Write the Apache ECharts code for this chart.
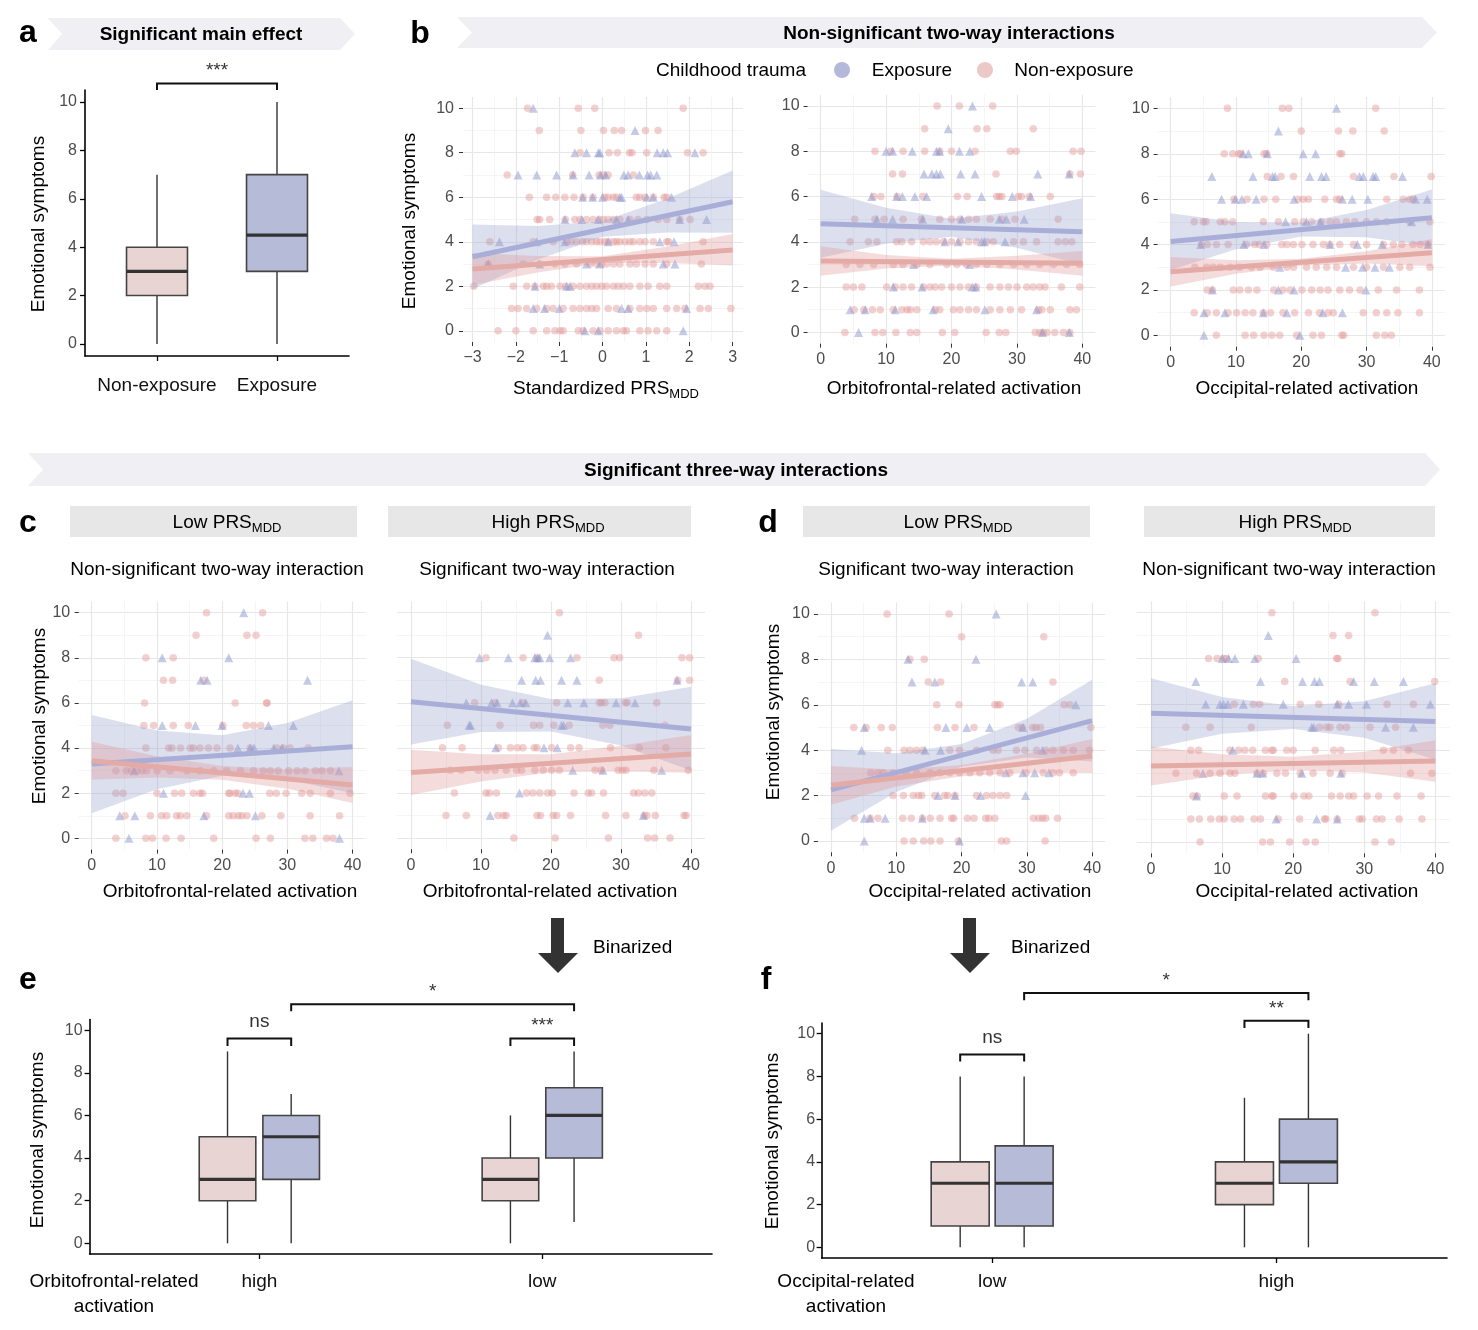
<!DOCTYPE html>
<html><head><meta charset="utf-8">
<script src="https://cdn.jsdelivr.net/npm/echarts@6/dist/echarts.min.js"></script>
<style>html,body{margin:0;padding:0;background:#fff}#chart{width:1478px;height:1330px}</style>
</head><body><div id="chart"></div>
<script>
// ---------------- DATA ----------------
const symptomTicks = [0, 2, 4, 6, 8, 10];
const prsTicks = [-3, -2, -1, 0, 1, 2, 3];
const activationTicks = [0, 10, 20, 30, 40];
const prsRange = [-3, 3];
const activationRange = [0, 40];
const prsBandX = [-3, -1.5, 0, 1.5, 3];
const activationBandX = [0, 10, 20, 30, 40];

// Panel a boxplots: [min, Q1, median, Q3, max]
const aCategories = ['Non-exposure', 'Exposure'];
const aBoxes = [[0, 2, 3, 4, 7], [0, 3, 4.5, 7, 10]];
// Panel e
const eCategories = ['high', 'low'];
const eNonExpBoxes = [[0, 2, 3, 5, 9], [0, 2, 3, 4, 6]];
const eExpBoxes = [[0, 3, 5, 6, 7], [1, 4, 6, 7.3, 9]];
// Panel f
const fCategories = ['low', 'high'];
const fNonExpBoxes = [[0, 1, 3, 4, 8], [0, 2, 3, 4, 7]];
const fExpBoxes = [[0, 1, 3, 4.75, 8], [0, 3, 4, 6, 10]];

// significance brackets: [x1, x2, yBar, yLegEnd, label]
const aBrackets = [[1, 2, 10.77, 10.5, '***']];
const eBrackets = [[0.8875, 1.1125, 9.61, 9.26, 'ns'], [1.8875, 2.1125, 9.61, 9.26, '***'], [1.1125, 2.1125, 11.22, 10.89, '*']];
const fBrackets = [[0.8875, 1.1125, 9.03, 8.7, 'ns'], [1.8875, 2.1125, 10.6, 10.27, '**'], [1.1125, 2.1125, 11.9, 11.57, '*']];

// Scatter points: index = emotional symptom score (0..10), values = x positions
const b1NonExp = [
 [-2.41,-2,-1.6,-1.29,-1.1,-0.98,-0.91,-0.56,-0.45,-0.22,-0.06,0.13,0.32,0.48,0.55,0.86,1.05,1.25,1.48],
 [-2.1,-1.95,-1.75,-1.52,-1.29,-1.14,-0.91,-0.68,-0.52,-0.37,-0.25,-0.14,0.13,0.32,0.63,0.86,1.02,1.17,1.48,1.71,1.9,2.25,2.44,2.96],
 [-2.97,-2.06,-1.75,-1.56,-1.37,-1.29,-1.18,-0.98,-0.85,-0.68,-0.52,-0.37,-0.25,-0.14,-0.02,0.09,0.25,0.36,0.48,0.63,0.86,1.05,1.32,1.48,2.21,2.36,2.48],
 [-2.64,-1.83,-1.45,-1.1,-0.87,-0.6,-0.29,-0.14,-0.02,0.09,0.25,0.4,0.63,0.78,0.98,1.17,1.48,2.28],
 [-2.6,-1.6,-1.14,-0.83,-0.72,-0.6,-0.46,-0.37,-0.25,-0.14,-0.06,0.05,0.13,0.25,0.32,0.4,0.52,0.63,0.71,0.86,0.98,1.17,1.48,1.52,2.32],
 [-1.51,-1.45,-1.22,-0.86,-0.64,-0.52,-0.37,-0.22,-0.08,0.02,0.13,0.25,0.4,0.63,0.82,1.02,1.28,1.48,1.78,2.02],
 [-1.69,-1.29,-1.08,-0.87,-0.66,-0.45,-0.22,0.05,0.13,0.25,0.32,0.78,0.86,0.98,1.17,1.42,1.48],
 [-2.2,-0.69,-0.08,0.03,0.13,0.71],
 [-0.52,0.15,0.34,0.62,0.68,1.02,1.96,2.32],
 [-1.46,-0.5,0.02,0.27,0.44,0.99,1.28],
 [-1.73,-0.56,-0.18,1.86]
];
const b1Exp = [
 [-0.41,-0.1,1.86],
 [-1.6,-1.34,-1.0,0.44,0.59,1.94],
 [-1.56,-0.83,-0.75],
 [-2.64,-1.45,-0.37,-0.06,1.4,1.67],
 [-2.38,-1.52,-0.87,0.13,1.32,1.65],
 [-0.87,-0.48,-0.1,0.32,0.59,1.78,2.4],
 [-0.46,-0.23,0,0.4,0.44,1.02,1.17,1.59],
 [-1.95,-1.52,-1.06,-0.68,-0.31,-0.05,0.07,0.49,0.59,0.85,1.04,1.11,1.25],
 [-0.64,-0.37,-0.1,-0.06,1.26,1.4,1.5,2.13],
 [0.75],
 [-1.6]
];
const b1NonExpLine = [2.78, 3.63];
const b1ExpLine = [3.33, 5.8];
const b1NonExpLo = [2.06, 2.62, 3.05, 3.05, 2.93];
const b1NonExpHi = [3.5, 3.36, 3.35, 3.79, 4.35];
const b1ExpLo = [1.88, 3.19, 4.22, 4.42, 4.4];
const b1ExpHi = [4.78, 4.71, 4.92, 5.94, 7.2];

const b2NonExp = [
 [3.7,8.3,9.5,11.5,13.7,14.7,18.6,20.5,25.3,27.3,28.3,32.8,33.5,34,34.6,35.8,37.1,38.1],
 [5.1,6.6,7.9,9.1,11.1,12.4,13.2,13.7,14.7,17.5,18.2,20.3,21.3,22.6,23.8,25.9,27.4,29,30.7,33.3,33.8,35.1,38.1,39.1],
 [3.9,5,6.3,10.1,11.4,12.6,13.9,15.7,16.7,17.5,18.5,20,21.3,22.6,23.8,25.9,27.4,28.7,30,31.5,32.5,33.5,34.3,36.8,39.6],
 [3.9,6,8.1,11.1,12.6,14.7,16.7,19.3,20.8,22.3,23.8,25.4,27.4,29.5,31.5,33.5,35.6,37.6,39.6],
 [4.5,7.3,8.6,11.6,12.4,13.9,15.7,16.7,17.7,18.8,20,21.3,22.6,23.8,25.4,26.4,29.5,31,33,36.3,37.4,38.4],
 [5.2,8.3,9.7,12.6,15.4,18.2,20,21.3,22.6,23.8,25.9,27.7,29.7,36.3],
 [8.1,9.2,11.7,15.6,20.9,22.4,26.9,27.3,27.7,30.2,30.7,31.9,35.1],
 [11,12.5,26.8,38.1,39.7],
 [8.3,10.7,12.6,15.9,18.2,20,23.6,29,29.9,38.6,39.8],
 [15.9,23.9,25.4,32.5],
 [17.8,21.2,26.3]
];
const b2Exp = [
 [5.8,33.9,38],
 [4.5,6.8,11.4,17.2,25.1,33],
 [11.1,15.5,23.2,23.7],
 [14.2,22.8],
 [19,21,24.6,25,28.2],
 [8.6,11,15.6,21.6,27.3,28.4,31.1],
 [7.8,11.6,12.5,14.4,16.2,24.6,29.3,32.1],
 [15.8,17,17.7,18.3,21.4,23.6,33.2,38],
 [10,11,14,17.7,18.2,21.2,22.8],
 [19.5],
 [23.2]
];
const b2NonExpLine = [3.15, 3.05];
const b2ExpLine = [4.8, 4.45];
const b2NonExpLo = [2.5, 2.82, 2.95, 2.78, 2.5];
const b2NonExpHi = [3.8, 3.42, 3.25, 3.38, 3.6];
const b2ExpLo = [3.3, 3.91, 4.22, 3.74, 2.98];
const b2ExpHi = [6.3, 5.51, 5.02, 5.34, 5.92];

const b3NonExp = [
 [7,11.4,12.7,14.3,15.5,16.7,19.3,21.8,23.1,26.2,26.5,31.5,32.8,33.8],
 [3.6,5.6,7,8.8,10.1,11.4,12.6,14.2,15.3,17.2,19,21.1,22.8,24.1,24.9,29.5,31.5,33.1,34.8,38.1],
 [5.6,6.4,9.6,10.6,11.9,13.2,15.8,17.2,18.3,20.1,21.6,22.9,24.1,25.9,27.4,29,31.8,34.6,38.1],
 [3.7,5.5,6.5,7.6,9.1,10.6,12.4,13.7,15.7,17.8,18.8,20.8,22.3,23.9,25.4,28,30,32.6,35.1,36.6,39.7],
 [4.7,5.6,7,8.8,11.6,12.9,13.6,14.7,17,17.8,18.8,20.1,21.8,23.4,24.4,25.9,28,30,32.6,34.1,35.4,37.1,38.2,39.4],
 [3.6,5,5.4,7.6,8.3,9.5,14.2,16.5,19,20.3,21.6,23.1,24.4,25.4,26.9,28.2,30,31.5,33.1,36.6,39.7],
 [9.7,11.7,14.3,16.1,19.5,20.3,21.1,23.6,25.4,25.9,33.1,35.6,36.6,37.1],
 [14.8,16.9,18.8,28,34.2,39.9],
 [8.2,9.5,10.4,10.7,14.3,14.7,25.9,26.2],
 [20,25.7,27.9,32.7],
 [8.7,17.1,18.1,31.4]
];
const b3Exp = [
 [5.1,19.8],
 [5.1,8.3,14.2,17.8,23.3,26.3],
 [6.4,16.5,18.9,29.9],
 [16.7,26.8,29.4,31.3,33.5],
 [4.6,11.2,14.3,24.4,28.6,32.4,39.4],
 [17.6,20.8,22.9,36.9],
 [7.8,9.9,10.9,13.1,18.9,26.3,27.8,30.2,37.5,39.3],
 [6.3,12.6,15.6,16,21.3,23.1,23.8,28.9,29.5,31,31.4,35.5],
 [11.1,11.9,14.8,20.3,22.2],
 [16.5],
 [25.4]
];
const b3NonExpLine = [2.8, 3.64];
const b3ExpLine = [4.13, 5.18];
const b3NonExpLo = [2.15, 2.71, 3.07, 3.16, 3.04];
const b3NonExpHi = [3.45, 3.31, 3.37, 3.7, 4.24];
const b3ExpLo = [2.88, 3.79, 4.36, 4.32, 3.93];
const b3ExpHi = [5.38, 4.99, 4.96, 5.52, 6.43];

const c1NonExp = [
 [3.7,8.3,9.3,11.4,13.7,18.7,25.2,27.4,32.7,33.9,36,37],
 [5.1,9,10.7,11.5,13,13.6,14.6,17.6,21,21.7,22.5,23,23.8,26.1,29,33.5,38],
 [3.7,4.8,10,12.7,13.8,15.6,16.6,17,21,21.2,22,22.4,27.3,28.3,29.8,32.2,33.5,36.6,39.6],
 [3.7,5.3,6.1,6.9,7.7,8.4,10,12,14.6,16.6,18.7,20.7,22.8,24.8,26.3,27.4,28.6,30.2,31.5,32.7,34.3,35.3,36.6],
 [8.3,11.8,12.3,13.6,15.1,15.6,16.6,17.9,19.2,21.2,24.3,28.4,29.4,30.4,33.2],
 [8,9.5,12.5,14.8,20.1,23.7,24.8,25.9],
 [8.1,22,26.8,26.9],
 [11,12.4,17.2],
 [8.3,12.5],
 [16,23.8,25.2],
 [17.6,26.2]
];
const c1Exp = [
 [5.7,38],
 [4.3,6.6,17.2,25.1],
 [11,23.2,24.2],
 [6.5,37.9],
 [22.4,24.3,24.9,27.9,29.2],
 [10.8,15.9,20,27.1,30.9],
 [],
 [16.7,17.7,33.1],
 [10.8,21],
 [],
 [23.3]
];
const c1NonExpLine = [3.44, 2.36];
const c1ExpLine = [3.29, 4.06];
const c1NonExpLo = [2.6, 2.7, 2.6, 2.2, 1.56];
const c1NonExpHi = [4.28, 3.64, 3.2, 3.06, 3.16];
const c1ExpLo = [1.11, 2.18, 2.77, 2.61, 2.0];
const c1ExpHi = [5.47, 4.78, 4.57, 5.11, 6.12];

const c2NonExp = [
 [14.7,20.6,28.2,33.8,34.8,37],
 [5,7.9,12.4,13.2,13.6,18,18.5,20.3,20.8,22.8,27.8,30.7,33.3,33.7,34.9,39,39.3],
 [6.2,10.7,11.2,12.2,16.5,17.4,18.4,19.5,20.2,23.3,25.3,25.8,27.5,31.8,32.5,33.4,34.4],
 [5.6,7.2,9.6,10.8,12,13.6,15.1,15.8,17.7,18.9,20.1,21.2,26.3,27.2,29.6,30.2,30.7,34.7,39.6],
 [4.5,7.3,12.5,14.2,15.2,16,17.6,18,20.1,22.8,24,28.5,32.6,36.4],
 [5.2,12.7,17.5,18.4,20.4,22.6,27.4,28.4,36.3],
 [9.1,12,16,20.8,26.9,27.2,27.7,30.6,30.9,35.1],
 [26.9,38.1,39.8],
 [10.7,16,18,23.7,29,29.8,38.7,39.8],
 [32.5],
 [21.2]
];
const c2Exp = [
 [],
 [11.3,33.2],
 [15.5],
 [23.1,27.4,35.8],
 [12.1,19,20.9],
 [8.3,8.5,21.5,21.8],
 [7.9,11.5,12.3,14.5,15.6,16.4,22.4,24.7,29.3,32],
 [15.8,17.8,18.5,21.5,23.7,38],
 [9.8,13.9,17.7,18.1,18.4,19.8,22.8],
 [19.5],
 []
];
const c2NonExpLine = [2.91, 3.73];
const c2ExpLine = [6.05, 4.84];
const c2NonExpLo = [1.91, 2.5, 2.92, 2.95, 2.89];
const c2NonExpHi = [3.91, 3.72, 3.72, 4.09, 4.57];
const c2ExpLo = [4.15, 4.7, 4.73, 4.1, 2.99];
const c2ExpHi = [7.95, 6.8, 6.17, 6.2, 6.71];

const d1NonExp = [
 [11.2,12.6,14.2,15.3,16.7,19.5,26.1,26.9,32.8],
 [3.6,6,7.2,11,12.3,14,15.2,16.7,18.5,18.8,20.9,21.9,23.7,24.2,25.1,31,31.8,32.4,32.9,34.7],
 [9.5,11.1,12.6,13.4,13.9,15.9,17.4,17.9,19,22.3,23.8,24.8,25.9,26.9],
 [6.1,7.2,8,9.5,11.5,13.1,15.2,16.7,18.2,19.7,21.3,22.8,24.3,25.9,27.4,29.9,32.5,34,35,37.1],
 [8.7,11.2,12.1,13.1,14.1,18.2,19.7,22.3,24.8,25.6,28.4,29.7,31.5,32.9,34,35.6,37.1,39.6],
 [3.5,5.4,7.7,9.4,16.3,19,21.9,28.7,29.3,30.9,31.4,32.1,39.8],
 [16.2,19.6,25.1,25.5,25.9,35.7,36.6],
 [14.9,16.8,34],
 [12.1,14.3],
 [20,32.6],
 [8.6,18.1]
];
const d1Exp = [
 [5.1,19.7],
 [5.1,6,8.3,14],
 [16.4,19,22.9,29.8],
 [26.8,29.4,31.2,33.4],
 [4.7,14.4,16.8,32.4],
 [5.1,17.6,20.8,24.3,29.4],
 [37.5],
 [12.4,15.9,29.2,30.9],
 [11.8,22.2],
 [],
 [25.3]
];
const d1NonExpLine = [2.45, 3.74];
const d1ExpLine = [2.25, 5.3];
const d1NonExpLo = [1.6, 2.4, 2.85, 3.0, 2.99];
const d1NonExpHi = [3.3, 3.14, 3.35, 3.84, 4.49];
const d1ExpLo = [0.45, 2.16, 3.27, 3.68, 3.5];
const d1ExpHi = [4.05, 3.86, 4.27, 5.38, 7.1];

const d2NonExp = [
 [6.9,15.7,16.8,19.5,21.8,23.1,31.5,33.8],
 [5.6,6.8,8.4,9.6,10.3,11.7,12.6,14.5,15.4,17.9,20.9,24.4,24.6,26.2,29.3,29.7,31.7,32.5,34.9,38.1],
 [5.9,6.5,10.3,12.1,16.1,17,17.2,20.1,21.5,22.2,25.4,26.6,27.8,28.5,30.4,32,34.6,38],
 [3.5,6.4,8.3,9.7,11.1,11.8,14.9,15.8,17.7,18.9,21,22.8,25.2,26.9,36.5,39.5],
 [5.6,6.7,11.1,12.3,13.2,14.3,16.1,17,17.2,19.1,20,23.1,25.7,26.7,32.7,34.1,36.2],
 [4.9,8.3,14.1,23.7,24.7,25.2,26.6,27.5,30.8,34.4],
 [11.7,14.4,15.3,21,23.6,26.4,33.2,36.9],
 [18.8,28,39.9],
 [8.1,9.3,10.2,10.6,15.1,26.1,26.3],
 [25.6,27.8],
 [17,31.5]
];
const d2Exp = [
 [],
 [17.6,23.3,26.2],
 [6.4],
 [7.3,14.9,15.7,21.2,26.7],
 [11.5],
 [22.6,22.9,33,36.9],
 [7.7,9.7,10.2,10.8,13,18.6,26.2,27.8,30.3,39.3],
 [6.3,15.4,21.3,23,23.7,28.5,31.4,35.5],
 [10,10.9,11.8,14.6,20.4],
 [16.5],
 []
];
const d2NonExpLine = [3.31, 3.53];
const d2ExpLine = [5.61, 5.25];
const d2NonExpLo = [2.46, 2.92, 3.12, 3.03, 2.63];
const d2NonExpHi = [4.16, 3.82, 3.72, 3.93, 4.43];
const d2ExpLo = [4.08, 4.72, 4.93, 4.54, 3.58];
const d2ExpHi = [7.14, 6.32, 5.93, 6.14, 6.92];

// ---------------- STYLE / LAYOUT ----------------
const FONT = 'Liberation Sans, Arial, Helvetica, sans-serif';
const PINK_PT = 'rgba(226,150,148,0.56)';
const BLUE_PT = 'rgba(138,148,204,0.62)';
const PINK_LINE = '#e4aaa6';
const BLUE_LINE = '#a8aed7';
const PINK_BAND = 'rgba(226,150,150,0.33)';
const BLUE_BAND = 'rgba(150,158,202,0.33)';
const BOX_FILLS = ['#e9d4d4', '#b6bbd7'];

const scatterPanels = [
 {left:463, top:97, width:280, height:245, xMin:-3.22, xMax:3.24, xTicks:prsTicks, xMargin:8, yLabels:true, yMargin:9,
  lineX:prsRange, bandX:prsBandX, nonExp:b1NonExp, exp:b1Exp, nonLine:b1NonExpLine, expLine:b1ExpLine,
  nonLo:b1NonExpLo, nonHi:b1NonExpHi, expLo:b1ExpLo, expHi:b1ExpHi},
 {left:807.6, top:94.7, width:287.8, height:249, xMin:-2, xMax:42, xTicks:activationTicks, xMargin:8, yLabels:true, yMargin:8,
  lineX:activationRange, bandX:activationBandX, nonExp:b2NonExp, exp:b2Exp, nonLine:b2NonExpLine, expLine:b2ExpLine,
  nonLo:b2NonExpLo, nonHi:b2NonExpHi, expLo:b2ExpLo, expHi:b2ExpHi},
 {left:1157.6, top:97, width:287.3, height:249.7, xMin:-2, xMax:42, xTicks:activationTicks, xMargin:8, yLabels:true, yMargin:8,
  lineX:activationRange, bandX:activationBandX, nonExp:b3NonExp, exp:b3Exp, nonLine:b3NonExpLine, expLine:b3ExpLine,
  nonLo:b3NonExpLo, nonHi:b3NonExpHi, expLo:b3ExpLo, expHi:b3ExpHi},
 {left:78.7, top:601.4, width:286.9, height:248.2, xMin:-2, xMax:42, xTicks:activationTicks, xMargin:8, yLabels:true, yMargin:8.5,
  lineX:activationRange, bandX:activationBandX, nonExp:c1NonExp, exp:c1Exp, nonLine:c1NonExpLine, expLine:c1ExpLine,
  nonLo:c1NonExpLo, nonHi:c1NonExpHi, expLo:c1ExpLo, expHi:c1ExpHi},
 {left:397, top:601.4, width:308, height:247.8, xMin:-2, xMax:42, xTicks:activationTicks, xMargin:8, yLabels:false, yMargin:8,
  lineX:activationRange, bandX:activationBandX, nonExp:c2NonExp, exp:c2Exp, nonLine:c2NonExpLine, expLine:c2ExpLine,
  nonLo:c2NonExpLo, nonHi:c2NonExpHi, expLo:c2ExpLo, expHi:c2ExpHi},
 {left:817.9, top:602.6, width:287.3, height:249.7, xMin:-2, xMax:42, xTicks:activationTicks, xMargin:8, yLabels:true, yMargin:8,
  lineX:activationRange, bandX:activationBandX, nonExp:d1NonExp, exp:d1Exp, nonLine:d1NonExpLine, expLine:d1ExpLine,
  nonLo:d1NonExpLo, nonHi:d1NonExpHi, expLo:d1ExpLo, expHi:d1ExpHi},
 {left:1136.8, top:601.2, width:312.8, height:252.2, xMin:-2, xMax:42, xTicks:activationTicks, xMargin:8, yLabels:false, yMargin:8,
  lineX:activationRange, bandX:activationBandX, nonExp:d2NonExp, exp:d2Exp, nonLine:d2NonExpLine, expLine:d2ExpLine,
  nonLo:d2NonExpLo, nonHi:d2NonExpHi, expLo:d2ExpLo, expHi:d2ExpHi}
];

const boxPanels = [
 {left:85, top:90, width:264, height:266, cats:aCategories, halfW:0.254, xMargin:20, yMargin:8,
  items: aBoxes.map((b, i) => [i + 1, ...b, i]), brackets:aBrackets},
 {left:89.6, top:1019.5, width:622.4, height:234.5, cats:eCategories, halfW:0.1, xMargin:18, yMargin:7,
  items: [].concat(...eCategories.map((c, i) => [[i + 1 - 0.1125, ...eNonExpBoxes[i], 0], [i + 1 + 0.1125, ...eExpBoxes[i], 1]])), brackets:eBrackets},
 {left:821.6, top:1023, width:625.4, height:235, cats:fCategories, halfW:0.102, xMargin:14, yMargin:6.5,
  items: [].concat(...fCategories.map((c, i) => [[i + 1 - 0.1125, ...fNonExpBoxes[i], 0], [i + 1 + 0.1125, ...fExpBoxes[i], 1]])), brackets:fBrackets}
];

// ---------------- BUILD ----------------
const grids = [], xAxes = [], yAxes = [], series = [];
const fmtTick = v => v < 0 ? '\u2212' + Math.abs(v) : String(v);
function levelsToPoints(levels) { const pts = []; levels.forEach((xs, y) => xs.forEach(x => pts.push([x, y]))); return pts; }

function bandSeries(gi, xs, lo, hi, color) {
  return {type:'custom', xAxisIndex:gi, yAxisIndex:gi, silent:true, z:3, clip:true,
    data:[[xs[0], lo[0]]],
    renderItem: (params, api) => {
      const pts = [];
      xs.forEach((x, i) => pts.push(api.coord([x, hi[i]])));
      for (let i = xs.length - 1; i >= 0; i--) pts.push(api.coord([xs[i], lo[i]]));
      return {type:'polygon', shape:{points:pts}, style:{fill:color}};
    }};
}

scatterPanels.forEach(p => {
  const gi = grids.length;
  grids.push({left:p.left, top:p.top, width:p.width, height:p.height});
  const minorLine = {show:true, lineStyle:{color:'#f3f3f3', width:0.8}};
  xAxes.push({type:'value', gridIndex:gi, min:p.xMin, max:p.xMax, splitNumber:5,
    axisLine:{show:false, onZero:false},
    axisTick:{show:true, customValues:p.xTicks, length:4, lineStyle:{color:'#333', width:1}},
    axisLabel:{show:true, customValues:p.xTicks, formatter:fmtTick, color:'#4d4d4d', fontSize:16, margin:p.xMargin, fontFamily:FONT},
    splitLine:{show:true, lineStyle:{color:'#e7e7e7', width:1.2}},
    minorTick:{show:false, splitNumber:2}, minorSplitLine:minorLine});
  yAxes.push({type:'value', gridIndex:gi, min:-0.5, max:10.5, splitNumber:5,
    axisLine:{show:false, onZero:false},
    axisTick:{show:p.yLabels, customValues:symptomTicks, length:4, lineStyle:{color:'#333', width:1}},
    axisLabel:{show:p.yLabels, customValues:symptomTicks, color:'#4d4d4d', fontSize:16, margin:p.yMargin, fontFamily:FONT},
    splitLine:{show:true, lineStyle:{color:'#e7e7e7', width:1.2}},
    minorTick:{show:false, splitNumber:2}, minorSplitLine:minorLine});
  series.push({type:'scatter', xAxisIndex:gi, yAxisIndex:gi, symbol:'circle', symbolSize:7.5, silent:true, z:2,
    itemStyle:{color:PINK_PT}, data:levelsToPoints(p.nonExp)});
  series.push({type:'scatter', xAxisIndex:gi, yAxisIndex:gi, symbol:'triangle', symbolSize:9, silent:true, z:2,
    itemStyle:{color:BLUE_PT}, data:levelsToPoints(p.exp)});
  series.push(bandSeries(gi, p.bandX, p.expLo, p.expHi, BLUE_BAND));
  series.push(bandSeries(gi, p.bandX, p.nonLo, p.nonHi, PINK_BAND));
  series.push({type:'line', xAxisIndex:gi, yAxisIndex:gi, symbol:'none', silent:true, z:4,
    lineStyle:{color:BLUE_LINE, width:5}, data:p.lineX.map((x, i) => [x, p.expLine[i]])});
  series.push({type:'line', xAxisIndex:gi, yAxisIndex:gi, symbol:'none', silent:true, z:4,
    lineStyle:{color:PINK_LINE, width:5}, data:p.lineX.map((x, i) => [x, p.nonLine[i]])});
});

boxPanels.forEach(p => {
  const gi = grids.length;
  grids.push({left:p.left, top:p.top, width:p.width, height:p.height});
  xAxes.push({type:'value', gridIndex:gi, min:0.4, max:2.6,
    axisLine:{show:true, onZero:false, lineStyle:{color:'#000', width:1.6}},
    axisTick:{show:true, customValues:[1, 2], length:5, lineStyle:{color:'#000', width:1.3}},
    axisLabel:{show:true, customValues:[1, 2], formatter:v => p.cats[Math.round(v) - 1], color:'#111', fontSize:19, margin:p.xMargin, fontFamily:FONT},
    splitLine:{show:false}});
  yAxes.push({type:'value', gridIndex:gi, min:-0.5, max:10.5,
    axisLine:{show:true, onZero:false, lineStyle:{color:'#000', width:1.6}},
    axisTick:{show:true, customValues:symptomTicks, length:5, lineStyle:{color:'#000', width:1.3}},
    axisLabel:{show:true, customValues:symptomTicks, color:'#4d4d4d', fontSize:16, margin:p.yMargin, fontFamily:FONT},
    splitLine:{show:false}});
  const halfW = p.halfW;
  series.push({type:'custom', xAxisIndex:gi, yAxisIndex:gi, silent:true, z:3, data:p.items,
    renderItem:(params, api) => {
      const x = api.value(0);
      const pMin = api.coord([x, api.value(1)]), pQ1 = api.coord([x, api.value(2)]), pMed = api.coord([x, api.value(3)]);
      const pQ3 = api.coord([x, api.value(4)]), pMax = api.coord([x, api.value(5)]);
      const w = api.size([halfW * 2, 0])[0];
      const fill = BOX_FILLS[api.value(6)];
      return {type:'group', children:[
        {type:'line', shape:{x1:pMin[0], y1:pMin[1], x2:pQ1[0], y2:pQ1[1]}, style:{stroke:'#333', lineWidth:1.4}},
        {type:'line', shape:{x1:pQ3[0], y1:pQ3[1], x2:pMax[0], y2:pMax[1]}, style:{stroke:'#333', lineWidth:1.4}},
        {type:'rect', shape:{x:pQ1[0] - w / 2, y:pQ3[1], width:w, height:pQ1[1] - pQ3[1]}, style:{fill:fill, stroke:'#444', lineWidth:1.6}},
        {type:'line', shape:{x1:pMed[0] - w / 2, y1:pMed[1], x2:pMed[0] + w / 2, y2:pMed[1]}, style:{stroke:'#333', lineWidth:3.2}}
      ]};
    }});
  const br = p.brackets;
  series.push({type:'custom', xAxisIndex:gi, yAxisIndex:gi, silent:true, z:5, clip:false,
    data:br.map(b => [b[0], b[2]]),
    renderItem:(params, api) => {
      const b = br[params.dataIndex];
      const p1 = api.coord([b[0], b[2]]), p2 = api.coord([b[1], b[2]]);
      const l1 = api.coord([b[0], b[3]]), l2 = api.coord([b[1], b[3]]);
      const off = b[4] === 'ns' ? 7 : 3;
      return {type:'group', children:[
        {type:'polyline', shape:{points:[l1, p1, p2, l2]}, style:{stroke:'#111', lineWidth:2, fill:'none'}},
        {type:'text', x:(p1[0] + p2[0]) / 2, y:p1[1] - off, style:{text:b[4], fontSize:19, fill:'#333', align:'center', verticalAlign:'bottom', fontFamily:FONT}}
      ]};
    }});
});

// ---------------- GRAPHIC (layout text & decorations) ----------------
const mctx = document.createElement('canvas').getContext('2d');
function textWidth(s, size, weight) { mctx.font = (weight || 'normal') + ' ' + size + 'px ' + FONT; return mctx.measureText(s).width; }
function txt(x, y, text, o) {
  o = o || {};
  return {type:'text', x:x, y:y, rotation:o.rot || 0, silent:true, z:10,
    style:{text:text, fontSize:o.size || 19, fontWeight:o.bold ? 'bold' : 'normal', fill:o.color || '#000',
      align:o.align || 'center', verticalAlign:'middle', fontFamily:FONT}};
}
function subLabel(cx, y, main, sub, size, subSize) {
  const w1 = textWidth(main, size), w2 = textWidth(sub, subSize);
  const x0 = cx - (w1 + w2) / 2;
  return [txt(x0, y, main, {size:size, align:'left'}), txt(x0 + w1, y + 5, sub, {size:subSize, align:'left'})];
}
function banner(pts) { return {type:'polygon', silent:true, z:1, shape:{points:pts}, style:{fill:'#f0f0f4'}}; }

const graphics = [
  banner([[48,18],[340,18],[355,34],[340,50],[48,50],[62,34]]),
  banner([[457,17],[1422,17],[1437,32.5],[1422,48],[457,48],[472,32.5]]),
  banner([[28,453],[1425,453],[1440,469.5],[1425,486],[28,486],[43,469.5]]),
  txt(201, 35, 'Significant main effect', {bold:true}),
  txt(949, 34, 'Non-significant two-way interactions', {bold:true}),
  txt(736, 471, 'Significant three-way interactions', {bold:true}),
  txt(28, 33, 'a', {bold:true, size:32}),
  txt(420, 34, 'b', {bold:true, size:32}),
  txt(28, 523, 'c', {bold:true, size:32}),
  txt(768, 523, 'd', {bold:true, size:32}),
  txt(28, 980, 'e', {bold:true, size:32}),
  txt(766, 980, 'f', {bold:true, size:32}),
  // legend
  txt(731, 71, 'Childhood trauma'),
  {type:'circle', silent:true, shape:{cx:842, cy:70, r:8}, style:{fill:'#b4b9da'}},
  txt(912, 71, 'Exposure'),
  {type:'circle', silent:true, shape:{cx:985, cy:70, r:8}, style:{fill:'#ecc9c7'}},
  txt(1074, 71, 'Non-exposure'),
  // strips
  {type:'rect', silent:true, shape:{x:70, y:506, width:287, height:31}, style:{fill:'#e7e7e7'}},
  {type:'rect', silent:true, shape:{x:388, y:506, width:303, height:31}, style:{fill:'#e7e7e7'}},
  {type:'rect', silent:true, shape:{x:803, y:506, width:287, height:31}, style:{fill:'#e7e7e7'}},
  {type:'rect', silent:true, shape:{x:1144, y:506, width:291, height:31}, style:{fill:'#e7e7e7'}},
  ...subLabel(227, 523, 'Low PRS', 'MDD', 19, 13),
  ...subLabel(548, 523, 'High PRS', 'MDD', 19, 13),
  ...subLabel(958, 523, 'Low PRS', 'MDD', 19, 13),
  ...subLabel(1295, 523, 'High PRS', 'MDD', 19, 13),
  // subtitles
  txt(217, 570, 'Non-significant two-way interaction'),
  txt(547, 570, 'Significant two-way interaction'),
  txt(946, 570, 'Significant two-way interaction'),
  txt(1289, 570, 'Non-significant two-way interaction'),
  // axis titles
  ...subLabel(606, 389, 'Standardized PRS', 'MDD', 19, 13),
  txt(954, 389, 'Orbitofrontal-related activation'),
  txt(1307, 389, 'Occipital-related activation'),
  txt(230, 892, 'Orbitofrontal-related activation'),
  txt(550, 892, 'Orbitofrontal-related activation'),
  txt(980, 892, 'Occipital-related activation'),
  txt(1307, 892, 'Occipital-related activation'),
  txt(114, 1282, 'Orbitofrontal-related'),
  txt(114, 1307, 'activation'),
  txt(846, 1282, 'Occipital-related'),
  txt(846, 1307, 'activation'),
  txt(39, 224, 'Emotional symptoms', {rot:Math.PI / 2}),
  txt(410, 221, 'Emotional symptoms', {rot:Math.PI / 2}),
  txt(39.5, 716, 'Emotional symptoms', {rot:Math.PI / 2}),
  txt(774, 712, 'Emotional symptoms', {rot:Math.PI / 2}),
  txt(38, 1140, 'Emotional symptoms', {rot:Math.PI / 2}),
  txt(773, 1141, 'Emotional symptoms', {rot:Math.PI / 2}),
  // binarized arrows
  {type:'rect', silent:true, shape:{x:551, y:918, width:13, height:36}, style:{fill:'#333'}},
  {type:'polygon', silent:true, shape:{points:[[538,953],[578,953],[558,973]]}, style:{fill:'#333'}},
  txt(593, 948, 'Binarized', {align:'left'}),
  {type:'rect', silent:true, shape:{x:963, y:918, width:13, height:36}, style:{fill:'#333'}},
  {type:'polygon', silent:true, shape:{points:[[950,953],[990,953],[970,973]]}, style:{fill:'#333'}},
  txt(1011, 948, 'Binarized', {align:'left'})
];

const chart = echarts.init(document.getElementById('chart'), null, {renderer:'canvas'});
chart.setOption({
  animation:false,
  backgroundColor:'#ffffff',
  textStyle:{fontFamily:FONT},
  grid:grids, xAxis:xAxes, yAxis:yAxes, series:series, graphic:graphics
});
</script></body></html>
